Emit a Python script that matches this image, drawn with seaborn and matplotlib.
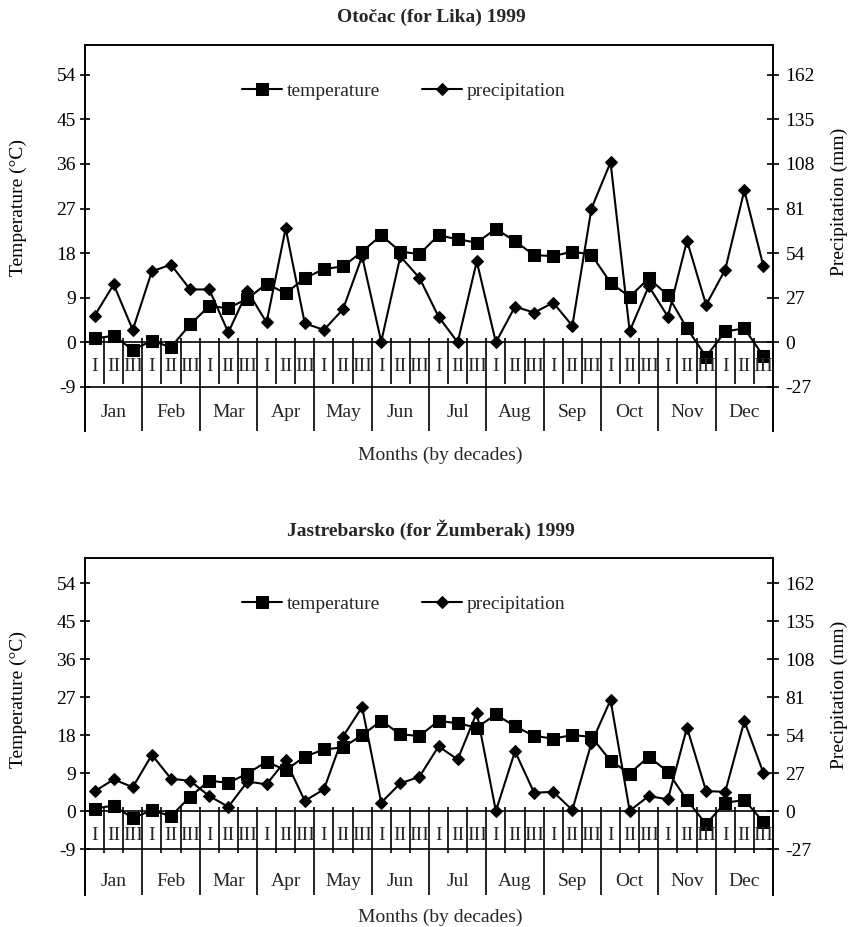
import numpy as np
import matplotlib.pyplot as plt
import seaborn as sns

months = ['Jan', 'Feb', 'Mar', 'Apr', 'May', 'Jun',
          'Jul', 'Aug', 'Sep', 'Oct', 'Nov', 'Dec']
decades = ['I', 'II', 'III']

# decade means
otocac_temp = [0.8, 1.3, -1.5, 0.3, -1.0, 3.6, 7.3, 6.9, 8.8, 11.8, 9.9, 12.9,
               14.8, 15.3, 18.3, 21.6, 18.3, 17.8, 21.6, 20.8, 20.1, 22.9, 20.4, 17.6,
               17.4, 18.3, 17.7, 12.0, 9.2, 12.9, 9.5, 2.8, -2.9, 2.2, 2.8, -2.8]
otocac_prec = [16, 35, 7.5, 43, 47, 32, 32, 6, 31, 12, 69, 11.5,
               7.5, 20, 52, 0.4, 52, 39, 15.5, 0, 49, 0, 21.6, 18,
               24, 10, 81, 109, 6.7, 34, 15.5, 61.5, 22.6, 44, 92, 46]

jastr_temp = [0.6, 1.3, -1.7, 0.2, -1.2, 3.4, 7.2, 6.7, 8.9, 11.7, 9.7, 12.9,
              14.6, 15.1, 18.0, 21.4, 18.2, 17.8, 21.4, 20.8, 19.8, 22.9, 20.1, 17.8,
              17.2, 18.0, 17.6, 11.9, 8.9, 12.9, 9.3, 2.6, -3.1, 2.0, 2.6, -2.6]
jastr_prec = [14, 22.5, 17, 40, 23, 21.5, 10.7, 3, 21, 19, 36, 7.3,
              15.4, 53, 74, 6, 19.7, 24.4, 46, 36.7, 70, 0, 42.6, 13,
              13.7, 0.7, 48.5, 79, 0.2, 10.7, 8.3, 59.4, 14.2, 13.7, 64, 27]

temp_ticks = list(range(-9, 55, 9))
prec_ticks = list(range(-27, 163, 27))

W, H = 848, 927
sns.set_theme(style="white")
plt.rcParams['font.family'] = ['Liberation Serif', 'DejaVu Serif']
plt.rcParams['font.size'] = 14
plt.rcParams['axes.unicode_minus'] = False


def draw_panel(fig, top_px, bottom_px, ymin, title, temp, prec, legend_y, xlabel_off):
    h_px = bottom_px - top_px
    ax = fig.add_axes([85 / W, 1 - bottom_px / H, 688 / W, h_px / H])
    ax2 = ax.twinx()
    upp = (60 - ymin) / h_px  # data units per pixel
    x = np.arange(len(temp))

    ax.set_xlim(-0.5, 35.5)
    ax.set_ylim(ymin, 60)
    ax2.set_ylim(3 * ymin, 180)
    ax.set_xticks([])
    ax.set_yticks(temp_ticks)
    ax2.set_yticks(prec_ticks)

    for a in (ax, ax2):
        for s in a.spines.values():
            s.set_color('black')
            s.set_linewidth(1.2)
        a.spines['bottom'].set_visible(False)
    ax.tick_params(axis='y', direction='inout', length=7, width=1.2,
                   labelsize=14, pad=3, colors='black', left=True)
    ax2.tick_params(axis='y', direction='inout', length=8, width=1.2,
                    labelsize=14, pad=5, colors='black', right=True)

    # value axis frame / category axis
    ax.axhline(0, color='black', lw=1.2)
    ax.axhline(-9, color='black', lw=1.2)
    for k in range(1, 36):
        xs = k - 0.5
        y1 = ymin if k % 3 == 0 else -42 * upp
        ax.plot([xs, xs], [4 * upp, y1], color='black', lw=1.2, solid_capstyle='butt')
    for i in range(36):
        ax.annotate(decades[i % 3], xy=(i, 0), xytext=(0, -24), textcoords='offset pixels',
                    ha='center', va='center', fontsize=14)
    for m, name in enumerate(months):
        ax.annotate(name, xy=(3 * m + 1, 0), xytext=(0, -70), textcoords='offset pixels',
                    ha='center', va='center', fontsize=14)

    sns.lineplot(x=x, y=temp, ax=ax, color='black', lw=1.5, marker='s', markersize=8.5,
                 markeredgecolor='black', markerfacecolor='black', label='temperature')
    sns.lineplot(x=x, y=prec, ax=ax2, color='black', lw=1.5, marker='D', markersize=5.8,
                 markeredgecolor='black', markerfacecolor='black', label='precipitation')

    h1, l1 = ax.get_legend_handles_labels()
    h2, l2 = ax2.get_legend_handles_labels()
    for a in (ax, ax2):
        if a.get_legend() is not None:
            a.get_legend().remove()
    ax2.legend(h1 + h2, l1 + l2, loc='center', bbox_to_anchor=(0.463, legend_y), ncol=2,
               frameon=False, fontsize=14, handlelength=2.06, handletextpad=0.26,
               columnspacing=2.15, borderpad=0, borderaxespad=0)

    ax.set_ylabel('Temperature (\u00b0C)', fontsize=14, color='black')
    ax.yaxis.set_label_coords((18.5 - 85) / 688, 0.58)
    ax.yaxis.label.set_va('center')
    ax2.set_ylabel('Precipitation (mm)', fontsize=14, color='black', rotation=90)
    ax2.yaxis.set_label_coords((839 - 85) / 688, 0.593)
    ax2.yaxis.label.set_va('center')

    ax.annotate('Months (by decades)', xy=(0.516, 0), xycoords='axes fraction',
                xytext=(0, -xlabel_off), textcoords='offset pixels',
                ha='center', va='center', fontsize=14)
    fig.text(431 / W, 1 - (top_px - 28) / H, title, ha='center', va='center',
             fontsize=14, fontweight='bold')


fig = plt.figure(figsize=(W / 100, H / 100), dpi=100)
draw_panel(fig, 45, 431, -17.9, 'Oto\u010dac (for Lika) 1999',
           otocac_temp, otocac_prec, 0.881, 24)
draw_panel(fig, 558, 895, -19.9, 'Jastrebarsko (for \u017dumberak) 1999',
           jastr_temp, jastr_prec, 0.8635, 22)

fig.savefig('out.png', dpi=100, facecolor='white')
